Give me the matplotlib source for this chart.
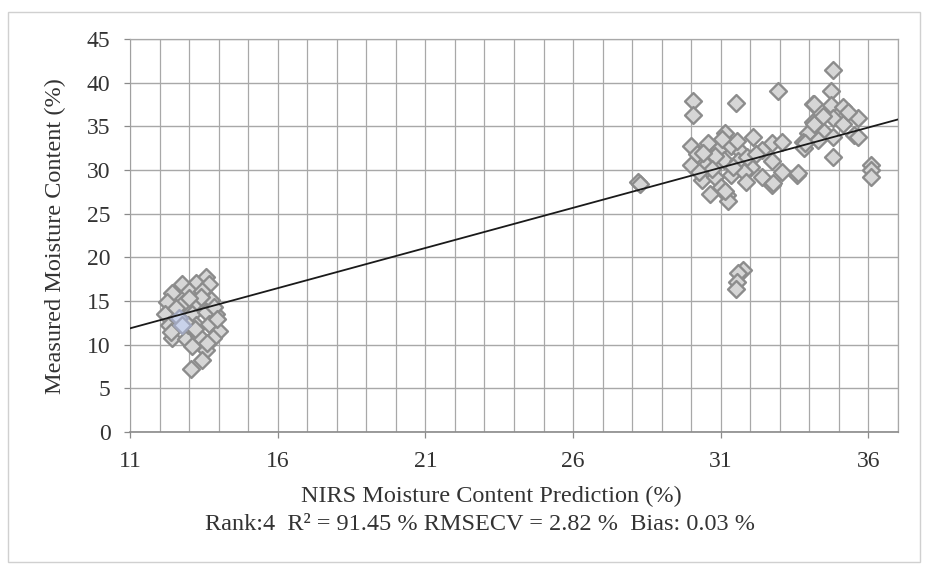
import matplotlib
matplotlib.use("Agg")
import matplotlib.pyplot as plt
from matplotlib.patches import Rectangle
import numpy as np

# ---- data ----
pred_low = [13.56, 13.23, 12.77, 13.68, 12.43, 13.00, 13.45, 12.25, 12.77, 13.23,
            13.73, 13.90, 12.20, 13.10, 13.56, 12.32, 13.23, 13.68, 14.00, 12.43,
            12.90, 13.34, 13.80, 13.10, 13.56, 13.45, 13.06, 12.60, 12.95,
            13.40, 13.00, 12.55, 13.85, 12.40, 13.20, 13.95, 13.60]
meas_low = [17.7, 17.1, 16.9, 16.9, 15.9, 16.1, 16.1, 14.9, 14.7, 14.9,
            15.1, 13.5, 13.5, 13.5, 13.7, 12.2, 12.2, 12.4, 11.6, 10.8,
            10.6, 11.0, 10.8, 9.8, 9.4, 8.2, 7.2, 13.1, 12.2,
            15.5, 15.3, 14.2, 14.3, 11.5, 11.8, 12.9, 10.2]
# two bluish points in the low cluster
pred_blue = [12.66, 12.77]
meas_blue = [13.1, 12.2]

pred_mid = [30.06, 30.06, 31.51, 32.93, 30.00, 30.57, 31.14, 32.10, 32.72, 33.06,
            30.90, 31.36, 31.70, 30.00, 30.50, 31.10, 31.60, 32.04, 32.72, 30.35,
            30.80, 31.36, 31.80, 32.38, 33.06, 33.57, 30.63, 31.20, 31.25, 32.72,
            30.20, 30.80, 31.40, 31.00, 31.15, 30.40, 31.90, 32.40, 32.78, 33.63,
            30.70, 31.55, 32.20, 30.25, 31.05, 31.85,
            28.20, 28.25,
            31.76, 31.60, 31.54, 31.50]
meas_mid = [37.9, 36.3, 37.7, 39.0, 32.7, 33.1, 34.2, 33.8, 33.1, 33.2,
            32.3, 32.7, 32.1, 30.6, 30.6, 31.1, 31.0, 30.4, 31.0, 28.9,
            29.2, 29.4, 29.8, 29.2, 29.8, 29.4, 27.3, 27.1, 26.4, 28.3,
            31.8, 31.6, 30.3, 28.0, 27.6, 32.0, 31.5, 32.3, 28.5, 29.6,
            30.1, 33.3, 31.8, 29.8, 33.6, 28.6,
            28.6, 28.4,
            18.6, 18.2, 17.2, 16.4]

pred_high = [34.79, 34.73, 34.11, 34.73, 35.13, 34.79, 35.64, 34.11, 35.13, 33.94,
             34.50, 35.50, 33.77, 34.30, 34.80, 35.64, 33.83, 34.79, 36.10, 36.10,
             36.10, 34.14, 34.14, 33.85, 35.30, 34.45]
meas_high = [41.4, 39.0, 37.6, 37.4, 37.25, 35.9, 35.9, 35.5, 35.3, 34.2,
             34.4, 34.0, 33.2, 33.4, 33.8, 33.8, 32.5, 31.5, 30.6, 30.0,
             29.2, 37.6, 35.3, 33.1, 36.6, 36.2]

trend_slope = 0.92
trend_intercept = 1.75
x_limits = [11, 37]
y_limits = [0, 45]
x_major_ticks = [11, 16, 21, 26, 31, 36]
y_major_ticks = [0, 5, 10, 15, 20, 25, 30, 35, 40, 45]

x_label = "NIRS Moisture Content Prediction (%)"
y_label = "Measured Moisture Content (%)"
stats_text = "Rank:4  R\u00b2 = 91.45 % RMSECV = 2.82 %  Bias: 0.03 %"

# ---- figure ----
W, H = 928, 572
fig = plt.figure(figsize=(W / 100, H / 100), dpi=100)
fig.patch.set_facecolor("white")
plt.rcParams["font.family"] = ["Liberation Serif", "DejaVu Serif"]

# outer chart border
fig.patches.append(Rectangle((8 / W, 1 - 562 / H), 912 / W, 550 / H,
                             transform=fig.transFigure, fill=False,
                             edgecolor="#d0d0d0", linewidth=1.0))

ax = fig.add_axes([130 / W, 1 - 432 / H, (898 - 130) / W, (432 - 39) / H])
ax.set_xlim(*x_limits)
ax.set_ylim(*y_limits)

ax.set_xticks(x_major_ticks)
ax.set_xticks(np.arange(x_limits[0], x_limits[1] + 1, 1), minor=True)
ax.set_yticks(y_major_ticks)

grid_col = "#a8a8a8"
ax.grid(which="major", axis="y", color=grid_col, linewidth=1.0)
ax.grid(which="both", axis="x", color=grid_col, linewidth=0.9)
ax.set_axisbelow(True)

for s in ["top", "right"]:
    ax.spines[s].set_color(grid_col)
    ax.spines[s].set_linewidth(0.9)
ax.spines["left"].set_color("#a0a0a0")
ax.spines["bottom"].set_color("#8a8a8a")
ax.spines["bottom"].set_linewidth(1.2)

ax.tick_params(axis="both", which="major", labelsize=17, colors="#8a8a8a",
               labelcolor="#333333", length=4, width=0.9)
ax.tick_params(axis="x", which="major", pad=10)
ax.tick_params(axis="y", which="major", pad=10)
ax.tick_params(axis="x", which="minor", length=0)

xl = np.array(x_limits, dtype=float)

mk = dict(marker="D", s=74, facecolor="#d6d6d6", edgecolor="#8c8c8c",
          linewidths=1.7, zorder=3)
ax.scatter(pred_low, meas_low, **mk)
ax.scatter(pred_mid, meas_mid, **mk)
ax.scatter(pred_high, meas_high, **mk)
ax.scatter(pred_blue, meas_blue, marker="D", s=74, facecolor="#c9d2ea",
           edgecolor="#a0a6bc", linewidths=1.7, zorder=3)
# trend line on top of the markers
ax.plot(xl, trend_slope * xl + trend_intercept, color="#1a1a1a", linewidth=1.3, zorder=4)

fig.text(491 / W, 1 - 496 / H, x_label, ha="center", va="center",
         fontsize=17.5, color="#333333")
fig.text(480 / W, 1 - 524 / H, stats_text, ha="center", va="center",
         fontsize=17.5, color="#333333")
fig.text(55 / W, 1 - 236 / H, y_label, ha="center", va="center",
         rotation=90, fontsize=17.5, color="#333333")

fig.savefig("out.png", dpi=100, facecolor="white")
